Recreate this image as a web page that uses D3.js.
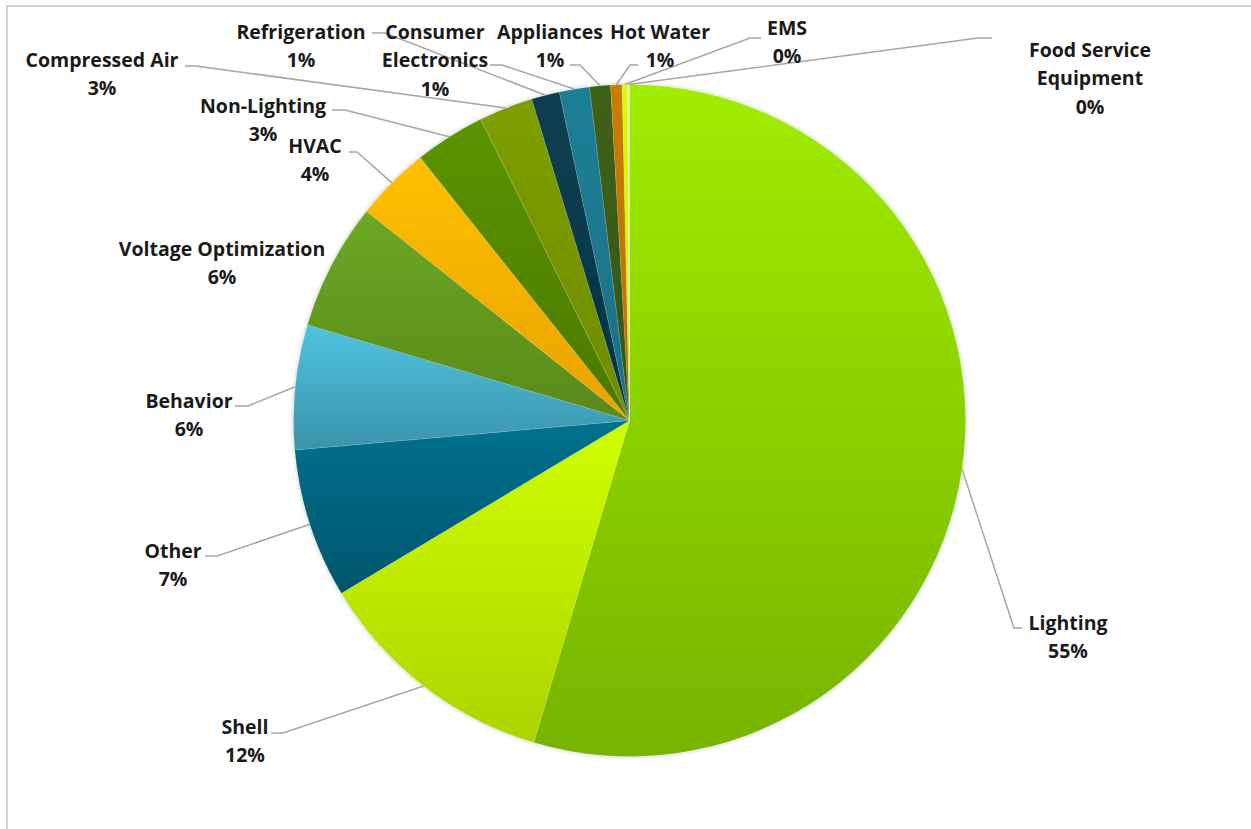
<!DOCTYPE html>
<html><head><meta charset="utf-8">
<script src="https://cdn.jsdelivr.net/npm/d3@7"></script>
<style>body{margin:0;background:#fff} svg{display:block}</style>
</head><body><svg id="c" width="1251" height="829"></svg>
<script>
// ---- data ----
const categories = ["Lighting","Shell","Other","Behavior","Voltage Optimization","HVAC","Non-Lighting","Compressed Air","Refrigeration","Consumer Electronics","Appliances","Hot Water","EMS","Food Service Equipment"];
const values = [54.6,11.8,7.2,6.0,6.1,3.6,3.4,2.6,1.35,1.45,1.0,0.55,0.25,0.1];
const labelLines = [["Lighting"],["Shell"],["Other"],["Behavior"],["Voltage Optimization"],["HVAC"],["Non-Lighting"],["Compressed Air"],["Refrigeration"],["Consumer","Electronics"],["Appliances"],["Hot Water"],["EMS"],["Food Service","Equipment"]];
const colorTop    = ["#a0ed00","#d0ff00","#00728e","#4ec3df","#6ca823","#ffc000","#5c9400","#7e9e00","#083f52","#1f7f96","#3d6214","#c97c00","#d4ff00","#eeff90"];
const colorBottom = ["#76b400","#acd400","#00566c","#3c93ab","#59891b","#e9a200","#4a7900","#6e8c00","#053545","#1a6f84","#355512","#ba7000","#c4ee00","#e0f080"];

// ---- layout (label placement) ----
const labelPos = [[1068,622],[245,726],[173,550],[189,400],[222,248],[315,145],[263,105],[102,59],[301,31],[435,31],[550,31],[660,31],[787,27],[1090,49]];
const leaderElbow = [[[1022,628],[1014,628]],[[271,733],[283,733]],[[205,556],[217,556]],[[235,406],[248,406]],null,[[349,152],[357,152]],[[332,110],[345,110]],[[185,66],[196,66]],[[372,33],[385,33]],[[490,65],[502,65]],[[570,65],[580,65]],[[638,65],[630,65]],[[761,38],[750,38]],[[992,38],[978,38]]];

const cx = 629.5, cy = 420.5, R = 336, LH = 28.5;
const svg = d3.select("#c");

// frame
svg.append("path").attr("d","M7,829 V6 H1251").attr("fill","none").attr("stroke","#cfcfcf").attr("stroke-width",2);

const defs = svg.append("defs");
const f = defs.append("filter").attr("id","sh").attr("x","-10%").attr("y","-10%").attr("width","120%").attr("height","120%");
f.append("feDropShadow").attr("dx",0).attr("dy",0).attr("stdDeviation",2).attr("flood-color","#000").attr("flood-opacity",0.25);

categories.forEach((c,i)=>{
  const g = defs.append("linearGradient").attr("id","g"+i).attr("x1",0).attr("y1",0).attr("x2",0).attr("y2",1);
  g.append("stop").attr("offset","0%").attr("stop-color",colorTop[i]);
  g.append("stop").attr("offset","100%").attr("stop-color",colorBottom[i]);
});

const data = categories.map((c,i)=>({name:c, value:values[i], i}));
const pie = d3.pie().sort(null).value(d=>d.value);
const arcs = pie(data);
const arc = d3.arc().innerRadius(0).outerRadius(R);
const edge = d3.arc().innerRadius(R).outerRadius(R);

const G = svg.append("g").attr("transform",`translate(${cx},${cy})`);
const pg = G.append("g").attr("filter","url(#sh)");
pg.selectAll("path").data(arcs).join("path")
  .attr("d",arc).attr("fill",d=>`url(#g${d.data.i})`)
  .attr("stroke","rgba(255,255,255,0.25)").attr("stroke-width",0.5);

// leader lines
arcs.forEach(d=>{
  const el = leaderElbow[d.data.i];
  if(!el) return;
  const p = edge.centroid(d);
  const pts = [el[0], el[1], [p[0]+cx, p[1]+cy]];
  svg.append("polyline").attr("points",pts.map(q=>q.join(",")).join(" "))
    .attr("fill","none").attr("stroke","#a6a6a6").attr("stroke-width",1.5);
});

// labels
const fmt = v => Math.round(v) + "%";
arcs.forEach(d=>{
  const i = d.data.i;
  const lines = labelLines[i].concat([fmt(d.data.value)]);
  const t = svg.append("text").attr("x",labelPos[i][0]).attr("y",labelPos[i][1])
    .attr("text-anchor","middle").attr("font-family","'Open Sans', Lato, sans-serif")
    .attr("font-weight","bold").attr("font-size",19.5).attr("fill","#1a1a1a");
  lines.forEach((l,k)=>{
    t.append("tspan").attr("x",labelPos[i][0]).attr("y",labelPos[i][1]+k*LH).attr("dominant-baseline","central").text(l);
  });
});
</script></body></html>
